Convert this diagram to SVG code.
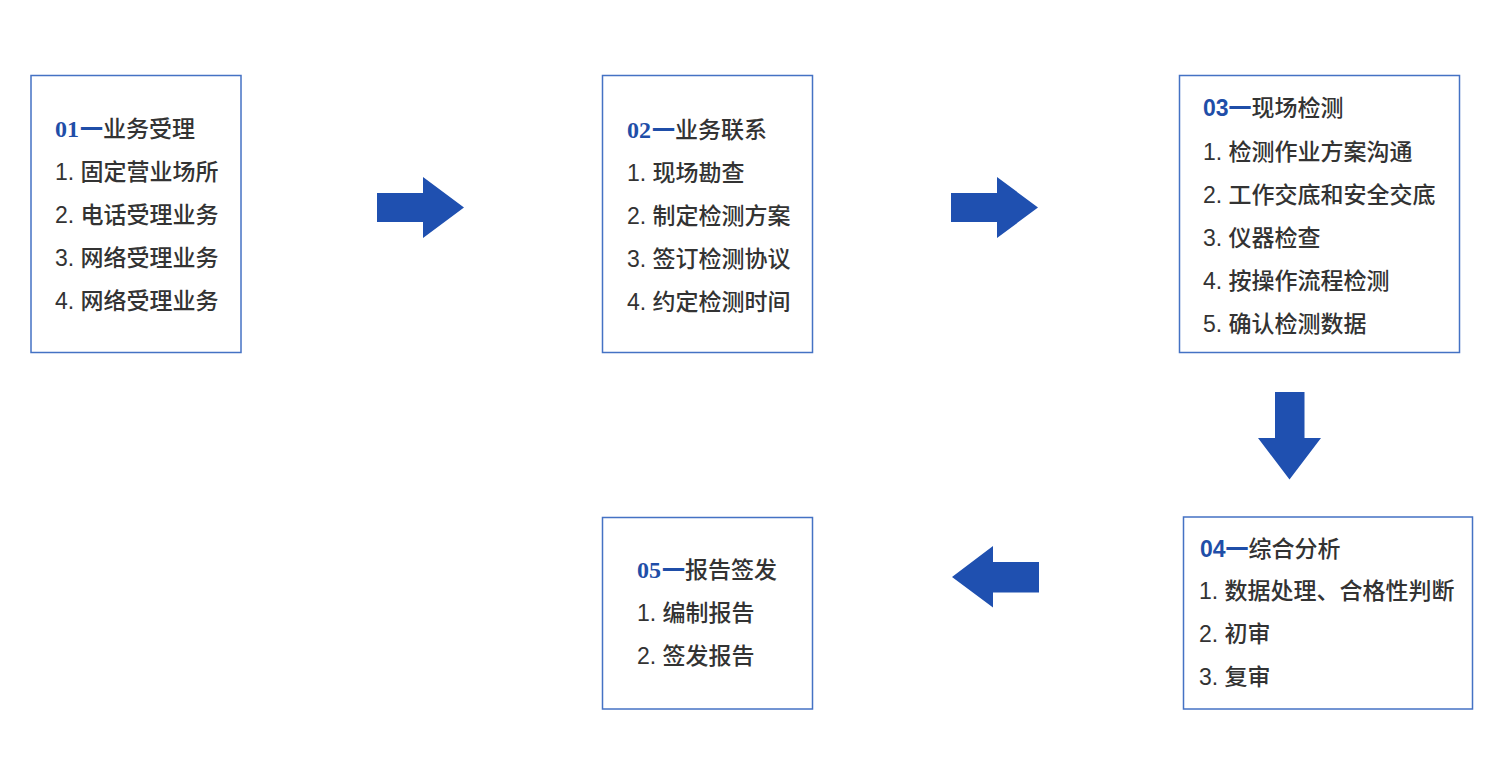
<svg xmlns="http://www.w3.org/2000/svg" width="1487" height="780" viewBox="0 0 1487 780">
<style>
.box{fill:#fff;stroke:#4472C4;stroke-width:1.5}
.t{font-family:"Liberation Sans","Noto Sans CJK SC",sans-serif;font-size:23px;fill:#333;font-weight:500}
.h{font-family:"Liberation Sans","Noto Sans CJK SC",sans-serif;font-size:23px;fill:#333;font-weight:500}
.n{fill:#1F4EA8;font-weight:bold}
.ns{font-family:"Liberation Serif",serif;font-size:24px}
.arr{fill:#1F50B0}
</style>
<rect width="1487" height="780" fill="#fff"/>
<g id="node1">
<rect class="box" x="31" y="75.5" width="210" height="277"/>
<text class="h" x="55" y="137"><tspan class="n ns">01</tspan><tspan class="n" dx="1">一</tspan>业务受理</text>
<text class="t" x="55" y="180">1. 固定营业场所</text>
<text class="t" x="55" y="223">2. 电话受理业务</text>
<text class="t" x="55" y="266">3. 网络受理业务</text>
<text class="t" x="55" y="309">4. 网络受理业务</text>
</g>
<g id="node2">
<rect class="box" x="602.5" y="75.5" width="210" height="277"/>
<text class="h" x="627" y="138"><tspan class="n ns">02</tspan><tspan class="n" dx="1">一</tspan>业务联系</text>
<text class="t" x="627" y="181">1. 现场勘查</text>
<text class="t" x="627" y="224">2. 制定检测方案</text>
<text class="t" x="627" y="267">3. 签订检测协议</text>
<text class="t" x="627" y="310">4. 约定检测时间</text>
</g>
<g id="node3">
<rect class="box" x="1179.5" y="75.5" width="280" height="277"/>
<text class="h" x="1203" y="116"><tspan class="n">03一</tspan>现场检测</text>
<text class="t" x="1203" y="160">1. 检测作业方案沟通</text>
<text class="t" x="1203" y="203">2. 工作交底和安全交底</text>
<text class="t" x="1203" y="246">3. 仪器检查</text>
<text class="t" x="1203" y="289">4. 按操作流程检测</text>
<text class="t" x="1203" y="332">5. 确认检测数据</text>
</g>
<g id="node4">
<rect class="box" x="1183.5" y="517" width="289" height="192"/>
<text class="h" x="1200" y="557"><tspan class="n">04一</tspan>综合分析</text>
<text class="t" x="1199" y="599">1. 数据处理、合格性判断</text>
<text class="t" x="1199" y="642">2. 初审</text>
<text class="t" x="1199" y="685">3. 复审</text>
</g>
<g id="node5">
<rect class="box" x="602.5" y="517.5" width="210" height="191.5"/>
<text class="h" x="637" y="578"><tspan class="n ns">05</tspan><tspan class="n" dx="1">一</tspan>报告签发</text>
<text class="t" x="637" y="621">1. 编制报告</text>
<text class="t" x="637" y="664">2. 签发报告</text>
</g>
<g id="connectors">
<polygon class="arr" points="377,193 423,193 423,177 464,207.5 423,238 423,222 377,222"/>
<polygon class="arr" points="951,193 997,193 997,177 1038,207.5 997,238 997,222 951,222"/>
<polygon class="arr" points="1275,392 1304.5,392 1304.5,438 1321,438 1289.5,479.5 1258,438 1275,438"/>
<polygon class="arr" points="1039,562 993,562 993,546 952,577 993,607.5 993,592.5 1039,592.5"/>
</g>
</svg>
